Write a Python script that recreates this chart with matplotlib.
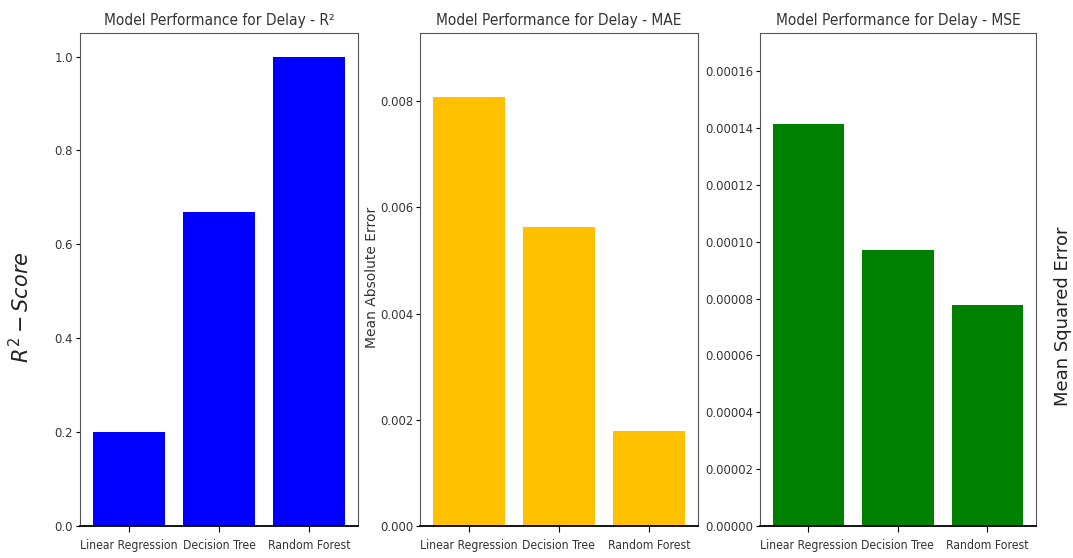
import matplotlib.pyplot as plt

models = ['Linear Regression', 'Decision Tree', 'Random Forest']
r2_vals = [0.2004, 0.6695, 0.9999]
mae_vals = [0.008075, 0.005628, 0.001788]
mse_vals = [0.0001413, 0.0000970, 0.0000777]

r2_ticks = [0.0, 0.2, 0.4, 0.6, 0.8, 1.0]
mae_ticks = [0.000, 0.002, 0.004, 0.006, 0.008]
mse_ticks = [0.00000, 0.00002, 0.00004, 0.00006, 0.00008,
             0.00010, 0.00012, 0.00014, 0.00016]

plt.rcParams['font.family'] = ['DejaVu Sans']
cond = dict(fontstretch='condensed')

fig = plt.figure(figsize=(10.73, 5.58), dpi=100)
ax1 = fig.add_axes([0.0746, 0.0573, 0.259, 0.8835])
ax2 = fig.add_axes([0.3914, 0.0573, 0.259, 0.8835])
ax3 = fig.add_axes([0.7083, 0.0573, 0.257, 0.8835])

panels = [
    (ax1, r2_vals, 'blue', r2_ticks, '%.1f', 1.05, 'Model Performance for Delay - R²'),
    (ax2, mae_vals, '#ffc000', mae_ticks, '%.3f', 0.00928, 'Model Performance for Delay - MAE'),
    (ax3, mse_vals, 'green', mse_ticks, '%.5f', 0.0001734, 'Model Performance for Delay - MSE'),
]

for ax, vals, col, ticks, fmt, top, title in panels:
    ax.bar(models, vals, color=col, width=0.8)
    ax.set_ylim(0, top)
    ax.set_yticks(ticks)
    ax.set_yticklabels([fmt % t for t in ticks], fontsize=9.3, color='#333333', **cond)
    ax.set_xticks(range(len(models)))
    ax.set_xticklabels(models, fontsize=8.7, color='#333333', **cond)
    ax.tick_params(axis='y', length=3, pad=2)
    ax.tick_params(axis='x', length=4, pad=5)
    ax.set_title(title, fontsize=11.1, color='#333333', pad=6, **cond)
    for s in ax.spines.values():
        s.set_color('#555555')
    ax.spines['bottom'].set_color('black')
    ax.spines['bottom'].set_linewidth(1.3)

fig.text(0.019, 0.45, r'$R^2 - Score$', rotation=90, fontsize=15,
         ha='center', va='center', color='#222222')
fig.text(0.3465, 0.503, 'Mean Absolute Error', rotation=90, fontsize=10,
         ha='center', va='center', color='#333333')
fig.text(0.991, 0.434, 'Mean Squared Error', rotation=90, fontsize=13,
         ha='center', va='center', color='#222222')

fig.savefig('out.png', dpi=100)
